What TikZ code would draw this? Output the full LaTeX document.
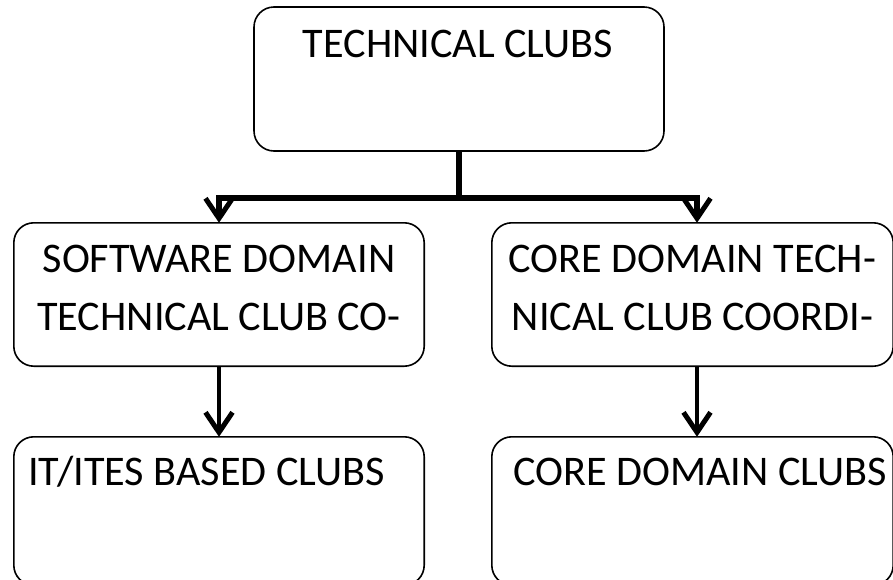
\documentclass[tikz,border=0pt]{standalone}
\usepackage{fontspec}
\setmainfont{Carlito}
\usetikzlibrary{arrows.meta}
\begin{document}
\begin{tikzpicture}[x=1pt,y=-1pt,
  box/.style={draw=black,line width=1.6pt,rounded corners=20pt,inner sep=0pt},
  lbl/.style={anchor=base,inner sep=0pt,align=center,font=\fontsize{42.2}{58}\selectfont},
  conn/.style={draw=black,line width=5.5pt},
  tip/.style={-{Straight Barb[length=20pt,width=27pt,line width=5pt]}}]
\useasboundingbox (0,0) rectangle (893,579);
% boxes
\path[box] (254,7) rectangle (664,151);
\node[minimum width=410pt,minimum height=144pt,inner sep=0pt] (top) at (459,79) {};
\node[minimum width=410pt,minimum height=143pt,inner sep=0pt] (lm) at (219,294.5) {};
\node[minimum width=401pt,minimum height=143pt,inner sep=0pt] (rm) at (692.5,294.5) {};
\node[minimum width=410pt,minimum height=148pt,inner sep=0pt] (lb) at (219,511) {};
\node[minimum width=401pt,minimum height=148pt,inner sep=0pt] (rb) at (692.5,511) {};
\path[box] (lm.north west) rectangle (lm.south east);
\path[box] (rm.north west) rectangle (rm.south east);
\path[box] (lb.north west) rectangle (lb.south east);
\path[box] (rb.north west) rectangle (rb.south east);
% texts
\node[lbl] (t1) at (458,57) {TECHNICAL CLUBS};
\node[lbl] (t2) at (219,330) {SOFTWARE DOMAIN\\TECHNICAL CLUB CO-};
\node[lbl] (t3) at (692.5,330) {CORE DOMAIN TECH-\\NICAL CLUB COORDI-};
\node[lbl,anchor=base west] (t4) at (28,485) {IT/ITES BASED CLUBS};
\node[lbl,anchor=base west] (t5) at (513,485) {CORE DOMAIN CLUBS};
% connectors
\coordinate (j) at (459,198);
\coordinate (jl) at (219,198);
\coordinate (jr) at (697,198);
\draw[conn] (top.south) -- (j);
\draw[conn] ([xshift=-2.75pt]jl) -- ([xshift=2.75pt]jr);
\draw[conn,tip] (jl) -- (lm.north);
\draw[conn,tip] (jr) -- ([xshift=4.5pt]rm.north);
\draw[conn,line width=4.5pt,tip] (lm.south) -- (lb.north);
\draw[conn,line width=4.5pt,tip] ([xshift=4.5pt]rm.south) -- ([xshift=4.5pt]rb.north);
\end{tikzpicture}
\end{document}
